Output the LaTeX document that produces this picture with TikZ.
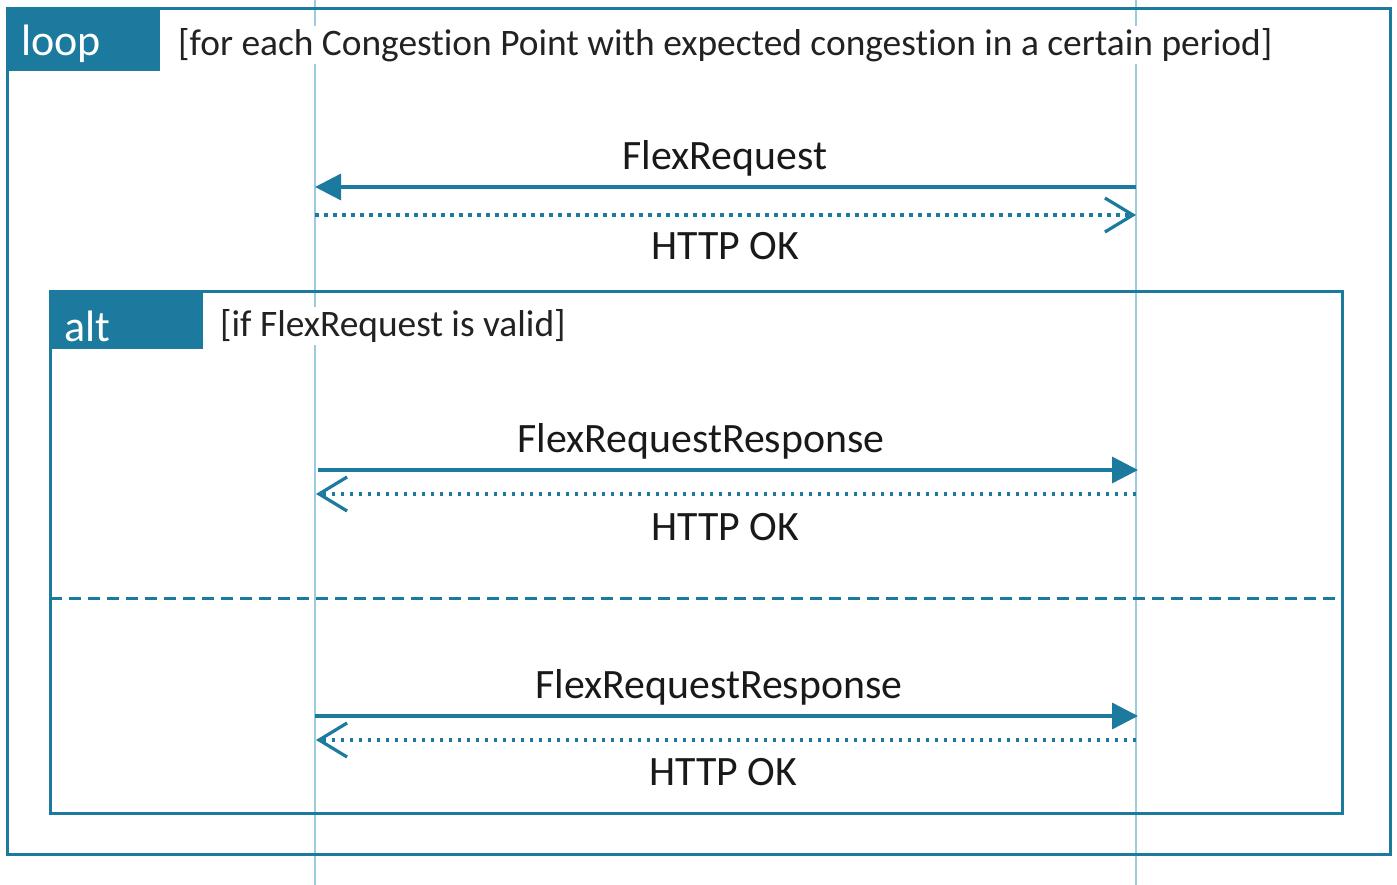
\documentclass[tikz,border=0pt]{standalone}
\usepackage{fontspec}
\setmainfont{Carlito}[Ligatures=NoCommon]
\usetikzlibrary{arrows.meta}
\definecolor{umlteal}{HTML}{1C7A9E}
\definecolor{lifeblue}{HTML}{9CCBDF}
\definecolor{guardtxt}{HTML}{222222}
\tikzset{
  lifeline/.style={draw=lifeblue, line width=1.3pt},
  frame/.style={draw=umlteal, line width=3pt},
  framebox/.style={fill=umlteal, anchor=north west, inner sep=0pt},
  frametext/.style={text=white, anchor=west, inner sep=0pt, font=\fontsize{44}{50}\selectfont},
  guard/.style={fill=white, text=guardtxt, anchor=west, inner sep=2pt, font=\fontsize{37.4}{43}\selectfont},
  msglabel/.style={text=black!90, inner sep=0pt, font=\fontsize{41.8}{48}\selectfont},
  syncmsg/.style={draw=umlteal, line width=3.4pt, -{Triangle[length=26pt,width=26pt]}},
  replymsg/.style={draw=umlteal, line width=3.2pt, dash pattern=on 3.5pt off 5.5pt, -{Straight Barb[length=28pt,width=34pt,line width=3.2pt]}},
  separator/.style={draw=umlteal, line width=3pt, dash pattern=on 12pt off 7pt},
}
\begin{document}
\begin{tikzpicture}[x=1pt,y=-1pt]
\useasboundingbox (0,0) rectangle (1397,885);
% lifelines
\coordinate (Atop) at (315,0);
\coordinate (Abot) at (315,885);
\coordinate (Btop) at (1136,0);
\coordinate (Bbot) at (1136,885);
\draw[lifeline] (Atop) -- (Abot);
\draw[lifeline] (Btop) -- (Bbot);
% loop frame
\coordinate (loopNW) at (7,9);
\coordinate (loopSE) at (1390,854);
\draw[frame] (loopNW) rectangle (loopSE);
\node[framebox, minimum width=153pt, minimum height=62pt] (looplbl) at (loopNW) {};
\node[frametext] (looptxt) at (21,44) {loop};
\node[guard] (loopguard) at (176,45) {[for each Congestion Point with expected congestion in a certain period]};
% alt frame
\coordinate (altNW) at (50,292);
\coordinate (altSE) at (1342,813);
\draw[frame] (altNW) rectangle (altSE);
\node[framebox, minimum width=153pt, minimum height=57pt] (altlbl) at (altNW) {};
\node[frametext] (alttxt) at (64,326) {alt};
\node[guard] (altguard) at (218,326) {[if FlexRequest is valid]};
% separator
\coordinate (sepL) at (50,598);
\coordinate (sepR) at (1342,598);
\draw[separator] (sepL) -- (sepR);
% message anchor points
\coordinate (m1B) at (1136,187); \coordinate (m1A) at (315,187);
\coordinate (m2A) at (315,215); \coordinate (m2B) at (1136,215);
\coordinate (m3A) at (318,470); \coordinate (m3B) at (1138,470);
\coordinate (m4B) at (1136,494); \coordinate (m4A) at (316,494);
\coordinate (m5A) at (315,716); \coordinate (m5B) at (1138,716);
\coordinate (m6B) at (1136,740); \coordinate (m6A) at (316,740);
% messages
\draw[syncmsg] (m1B) -- (m1A);
\node[msglabel] (l1) at (725,158) {FlexRequest};
\draw[replymsg] (m2A) -- (m2B);
\node[msglabel] (l2) at (725,246) {HTTP OK};
\draw[syncmsg] (m3A) -- (m3B);
\node[msglabel] (l3) at (701,441) {FlexRequestResponse};
\draw[replymsg] (m4B) -- (m4A);
\node[msglabel] (l4) at (725,527) {HTTP OK};
\draw[syncmsg] (m5A) -- (m5B);
\node[msglabel] (l5) at (719,687) {FlexRequestResponse};
\draw[replymsg] (m6B) -- (m6A);
\node[msglabel] (l6) at (723,772) {HTTP OK};
\end{tikzpicture}
\end{document}
